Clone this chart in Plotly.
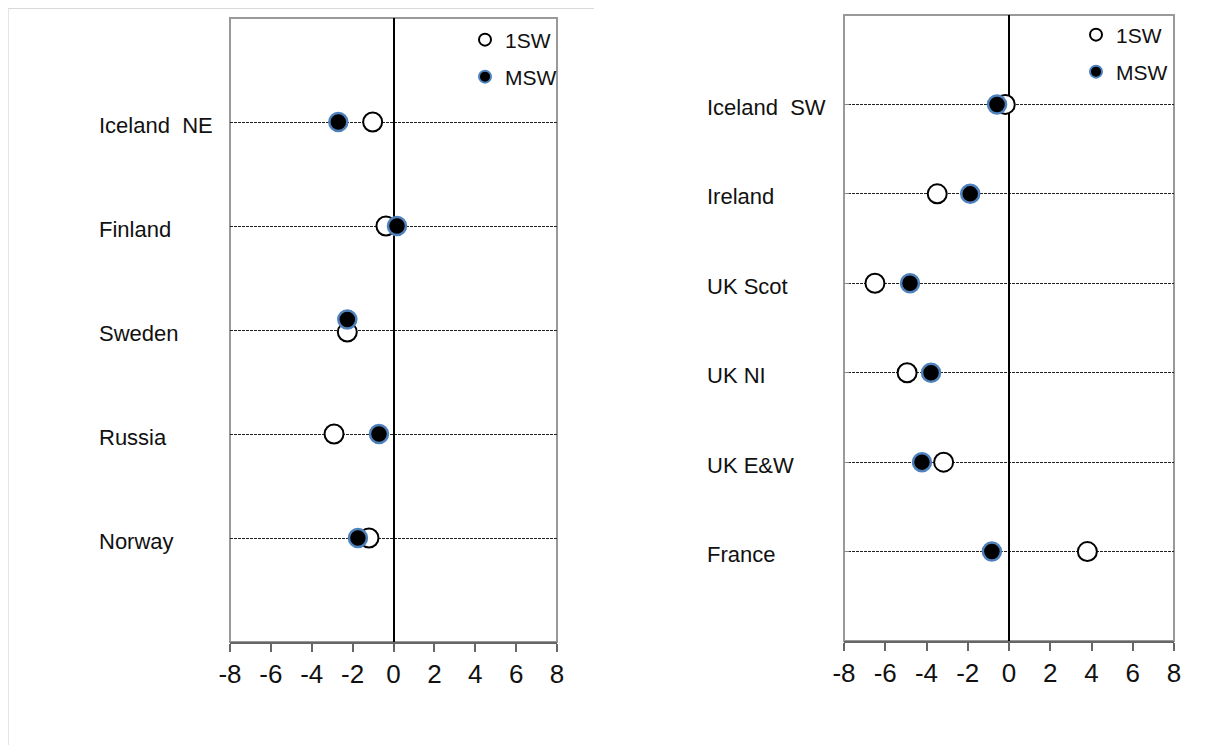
import plotly.graph_objects as go

# ---------------- data ----------------
left_regions = ["Iceland  NE", "Finland", "Sweden", "Russia", "Norway"]
left_pos = [5, 4, 3, 2, 1]
left_1sw = [-1.02, -0.37, -2.26, -2.91, -1.20]
left_msw = [-2.70, 0.17, -2.26, -0.71, -1.74]
left_1sw_ydev = [0, 0, -0.02, 0, 0]
left_msw_ydev = [0, 0, 0.10, 0, 0]

right_regions = ["Iceland  SW", "Ireland", "UK Scot", "UK NI", "UK E&W", "France"]
right_pos = [6, 5, 4, 3, 2, 1]
right_1sw = [-0.18, -3.48, -6.50, -4.94, -3.17, 3.80]
right_msw = [-0.58, -1.88, -4.80, -3.78, -4.22, -0.83]

x_ticks = [-8, -6, -4, -2, 0, 2, 4, 6, 8]
series_names = ["1SW", "MSW"]

# page is 1218x753 with the default 8px body margin; keep the figure inside it
PAGE_W, PAGE_H, BODY = 1218, 753, 8
W, H = PAGE_W - 2 * BODY, PAGE_H - 2 * BODY
FONT = "Liberation Sans, Arial, sans-serif"

fig = go.Figure()

def add_panel(xa, ya, xs1, xs2, ys1, ys2, leg1, leg2):
    fig.add_trace(go.Scatter(
        x=xs1, y=ys1, mode="markers", name=series_names[0],
        xaxis=xa, yaxis=ya, legend=leg1,
        marker=dict(size=19, color="white", line=dict(color="black", width=2)),
    ))
    fig.add_trace(go.Scatter(
        x=xs2, y=ys2, mode="markers", name=series_names[1],
        xaxis=xa, yaxis=ya, legend=leg2,
        marker=dict(size=18, color="black", line=dict(color="#4f81bd", width=2.5)),
    ))

add_panel("x", "y", left_1sw, left_msw,
          [p + d for p, d in zip(left_pos, left_1sw_ydev)],
          [p + d for p, d in zip(left_pos, left_msw_ydev)],
          "legend", "legend2")
add_panel("x2", "y2", right_1sw, right_msw, right_pos, right_pos,
          "legend3", "legend4")

def px_x(v):
    # page pixel -> paper fraction
    return (v - BODY) / W

def px_y(v):
    return 1 - (v - BODY) / H

xaxis_common = dict(
    range=[-8, 8], tickvals=x_ticks, ticktext=[str(t) for t in x_ticks],
    showgrid=False, zeroline=True, zerolinecolor="black", zerolinewidth=2,
    showline=True, linecolor="#666666", linewidth=2,
    ticks="outside", ticklen=8, tickwidth=2, tickcolor="#666666",
    tickfont=dict(family=FONT, size=26, color="#111111"),
    fixedrange=True, automargin=False,
)
yaxis_common = dict(
    showticklabels=False, showgrid=True, gridcolor="#222222", gridwidth=1,
    griddash="3px,1px", zeroline=False, showline=False, fixedrange=True,
    automargin=False,
)

fig.update_layout(
    width=W, height=H,
    margin=dict(l=0, r=0, t=0, b=0, autoexpand=False),
    paper_bgcolor="white", plot_bgcolor="white",
    xaxis=dict(domain=[px_x(230), px_x(557)], anchor="y", **xaxis_common),
    yaxis=dict(domain=[px_y(642), px_y(18)], anchor="x", range=[0, 6],
               tickvals=left_pos, **yaxis_common),
    xaxis2=dict(domain=[px_x(844), px_x(1174)], anchor="y2", **xaxis_common),
    yaxis2=dict(domain=[px_y(641), px_y(15)], anchor="x2", range=[0, 7],
                tickvals=right_pos, ticks="inside", ticklen=5, tickcolor="#888888",
                **yaxis_common),
)

leg_common = dict(bgcolor="rgba(0,0,0,0)", borderwidth=0, itemsizing="constant",
                   font=dict(family=FONT, size=21, color="#111111"),
                   xanchor="left", yanchor="middle")
fig.update_layout(
    legend=dict(x=px_x(465), y=px_y(40), **leg_common),
    legend2=dict(x=px_x(465), y=px_y(77), **leg_common),
    legend3=dict(x=px_x(1076), y=px_y(35), **leg_common),
    legend4=dict(x=px_x(1076), y=px_y(72), **leg_common),
    showlegend=True,
)

# category labels (left aligned, outside the plot area)
annots = []
for name, pos in zip(left_regions, left_pos):
    annots.append(dict(x=px_x(97), xref="paper", y=pos, yref="y", text=name,
                       showarrow=False, xanchor="left", yanchor="middle", yshift=-3,
                       font=dict(family=FONT, size=22, color="#111111")))
for name, pos in zip(right_regions, right_pos):
    annots.append(dict(x=px_x(705), xref="paper", y=pos, yref="y2", text=name,
                       showarrow=False, xanchor="left", yanchor="middle", yshift=-3,
                       font=dict(family=FONT, size=22, color="#111111")))
fig.update_layout(annotations=annots)

# plot borders and page frame
shapes = [
    dict(type="rect", xref="x domain", yref="y domain", x0=0, x1=1, y0=0, y1=1,
         line=dict(color="#999999", width=2), layer="below"),
    dict(type="rect", xref="x2 domain", yref="y2 domain", x0=0, x1=1, y0=0, y1=1,
         line=dict(color="#999999", width=2), layer="below"),
    dict(type="line", xref="paper", yref="paper", x0=0, x1=px_x(594),
         y0=1, y1=1, line=dict(color="#cccccc", width=1.5)),
    dict(type="line", xref="paper", yref="paper", x0=0, x1=0,
         y0=1, y1=0, line=dict(color="#dddddd", width=1.5)),
]
fig.update_layout(shapes=shapes)

fig.write_html("out.html")
